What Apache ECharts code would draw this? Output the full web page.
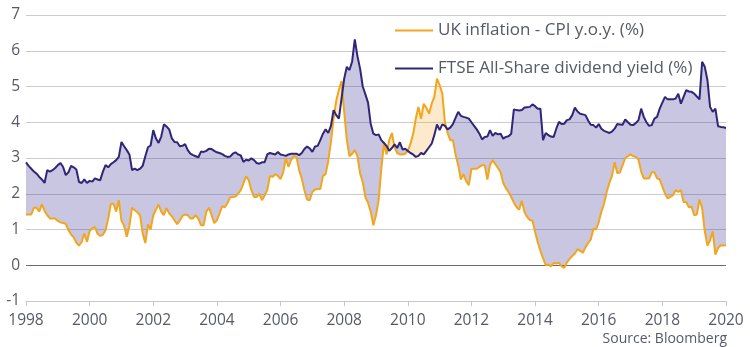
<!DOCTYPE html>
<html>
<head>
<meta charset="utf-8">
<script src="https://cdn.jsdelivr.net/npm/echarts@6/dist/echarts.min.js"></script>
<style>
html,body{margin:0;padding:0;background:#fff;}
#chart{width:750px;height:347px;}
</style>
</head>
<body>
<div id="chart"></div>
<script>
// Monthly observations, Jan 1998 .. Jan 2020
const startYear = 1998;
const endYear = 2020;
const tickYears = [1998, 2000, 2002, 2004, 2006, 2008, 2010, 2012, 2014, 2016, 2018, 2020];
const yTicks = [-1, 0, 1, 2, 3, 4, 5, 6, 7];

const dividendYield = [
  2.88,2.78,2.70,2.62,2.56,2.47,2.40,2.30,2.66,2.62,2.66,2.72, // 1998
  2.80,2.86,2.75,2.52,2.60,2.78,2.74,2.68,2.33,2.30,2.40,2.30, // 1999
  2.36,2.34,2.43,2.40,2.38,2.62,2.80,2.74,2.83,2.88,2.94,3.03, // 2000
  3.45,3.33,3.22,3.10,2.66,2.70,2.66,2.70,2.78,3.05,3.30,3.35, // 2001
  3.78,3.55,3.42,3.60,3.94,3.88,3.80,3.55,3.45,3.44,3.33,3.34, // 2002
  3.39,3.22,3.12,3.08,3.05,3.02,3.18,3.17,3.20,3.26,3.25,3.20, // 2003
  3.16,3.14,3.11,3.06,3.03,3.04,3.12,3.16,3.10,3.07,2.89,2.95, // 2004
  2.93,2.99,2.94,2.86,2.84,2.88,2.88,3.10,3.14,3.12,3.10,3.17, // 2005
  3.10,3.08,3.06,3.10,3.12,3.12,3.12,3.08,3.14,3.25,3.32,3.27, // 2006
  3.17,3.32,3.34,3.50,3.68,3.80,3.70,3.90,4.34,4.20,4.10,4.66, // 2007
  5.22,5.55,5.46,5.70,6.32,5.85,5.50,5.00,4.78,4.55,3.96,3.68, // 2008
  3.64,3.66,3.50,3.42,3.33,3.20,3.28,3.38,3.28,3.44,3.24,3.26, // 2009
  3.20,3.14,3.10,3.03,3.06,3.14,3.10,3.20,3.30,3.40,3.64,3.94, // 2010
  3.78,3.94,3.90,3.80,3.85,3.95,4.12,4.29,4.18,4.15,4.13,4.10, // 2011
  4.00,3.90,3.80,3.68,3.52,3.59,3.60,3.78,3.62,3.70,3.66,3.68, // 2012
  3.54,3.59,3.61,3.68,4.36,4.34,4.33,4.34,4.41,4.42,4.43,4.50, // 2013
  4.45,4.38,4.38,3.50,3.70,3.64,3.60,3.59,3.82,4.01,3.95,3.96, // 2014
  4.06,4.08,4.20,4.41,4.30,4.24,4.22,4.20,4.05,3.93,3.92,3.85, // 2015
  3.95,3.82,3.76,3.73,3.70,3.74,3.82,3.95,3.94,3.93,4.08,4.00, // 2016
  3.93,3.92,3.98,4.06,4.38,4.15,4.00,3.90,3.92,4.10,4.15,4.38, // 2017
  4.55,4.71,4.64,4.64,4.64,4.66,4.80,4.52,4.71,4.90,4.86,4.85, // 2018
  4.80,4.72,4.64,5.69,5.55,5.18,4.43,4.29,4.38,3.89,3.87,3.86, // 2019
  3.84                                                         // 2020
];

const cpiInflation = [
  1.42,1.42,1.42,1.61,1.61,1.50,1.71,1.52,1.40,1.31,1.31,1.31, // 1998
  1.24,1.20,1.18,1.16,0.98,0.86,0.78,0.63,0.55,0.65,0.89,0.65, // 1999
  0.96,1.03,1.07,0.88,0.82,0.85,0.98,1.30,1.72,1.72,1.50,1.82, // 2000
  1.25,1.10,0.80,1.10,1.61,1.54,1.48,1.40,0.89,0.62,1.14,1.00, // 2001
  1.40,1.55,1.70,1.50,1.40,1.60,1.45,1.37,1.26,1.15,1.25,1.38, // 2002
  1.42,1.40,1.31,1.31,1.40,1.30,1.12,1.12,1.50,1.61,1.40,1.18, // 2003
  1.26,1.45,1.65,1.62,1.74,1.90,1.91,1.92,2.00,2.10,2.29,2.49, // 2004
  2.38,2.10,1.91,1.91,2.00,1.82,1.95,2.10,2.50,2.47,2.55,2.50, // 2005
  2.41,2.60,3.00,2.75,2.95,3.05,3.03,2.66,2.43,2.10,1.84,1.82, // 2006
  2.05,2.12,2.13,2.13,2.50,2.55,2.92,3.45,4.10,4.60,4.90,5.15, // 2007
  4.30,3.50,3.05,3.12,3.22,3.05,2.57,2.33,1.90,1.75,1.50,1.12, // 2008
  1.40,1.82,2.70,3.40,3.10,3.50,3.70,3.30,3.14,3.10,3.10,3.12, // 2009
  3.20,3.40,3.67,4.10,4.43,4.10,4.52,4.40,4.24,4.52,4.71,5.22, // 2010
  5.04,4.80,4.00,3.70,3.50,3.50,3.10,2.80,2.40,2.55,2.35,2.24, // 2011
  2.70,2.70,2.70,2.75,2.80,2.80,2.40,2.80,2.94,2.83,2.72,2.60, // 2012
  2.30,2.15,2.05,1.91,1.75,1.63,1.55,1.80,1.49,1.35,1.26,1.25, // 2013
  0.93,0.65,0.40,0.20,0.00,0.02,-0.03,0.06,0.05,0.07,-0.03,-0.07, // 2014
  0.08,0.18,0.26,0.33,0.45,0.40,0.35,0.50,0.62,0.72,1.02,1.00, // 2015
  1.20,1.50,1.72,2.05,2.30,2.50,2.88,2.57,2.60,2.80,3.00,3.05, // 2016
  3.10,3.05,3.03,2.95,2.62,2.43,2.43,2.43,2.60,2.60,2.43,2.40, // 2017
  2.20,2.00,1.87,1.91,1.96,2.10,2.05,2.10,1.77,1.77,1.62,1.64, // 2018
  1.40,1.42,1.84,1.60,0.95,0.55,0.70,0.95,0.30,0.48,0.56,0.55, // 2019
  0.56                                                         // 2020
];

const seriesNames = ['UK inflation - CPI y.o.y. (%)', 'FTSE All-Share dividend yield (%)'];

// category labels (months)
const months = [];
for (let y = startYear; y <= endYear; y++) {
  for (let m = 1; m <= 12; m++) {
    if (y === endYear && m > 1) break;
    months.push(y + '-' + (m < 10 ? '0' + m : m));
  }
}

// band between the two lines
const bandBase = [], bandYield = [], bandCpi = [];
for (let i = 0; i < months.length; i++) {
  const a = dividendYield[i], b = cpiInflation[i];
  bandBase.push(Math.min(a, b));
  bandYield.push(a > b ? a - b : 0);
  bandCpi.push(b > a ? b - a : 0);
}

const FONT = '"Open Sans"';
const TXT = '#555a66';
const isTick = function (idx, val) {
  return tickYears.indexOf(+val.slice(0, 4)) >= 0 && val.slice(5) === '01';
};
const chart = echarts.init(document.getElementById('chart'), null, {renderer: 'canvas'});
chart.setOption({
  animation: false,
  backgroundColor: '#ffffff',
  textStyle: {fontFamily: FONT},
  grid: {left: 26, right: 24, top: 15, bottom: 46, containLabel: false},
  legend: {
    data: seriesNames,
    orient: 'vertical',
    left: 395,
    top: 22,
    icon: 'rect',
    itemWidth: 38,
    itemHeight: 2,
    itemGap: 21,
    padding: 0,
    textStyle: {fontFamily: FONT, fontSize: 17, color: TXT, padding: [0, 0, 0, 0]},
    selectedMode: false
  },
  xAxis: {
    type: 'category',
    data: months,
    boundaryGap: false,
    axisLine: {onZero: false, lineStyle: {color: '#c8c8c8', width: 1}},
    axisTick: {show: true, length: 5, lineStyle: {color: '#c8c8c8'}, interval: isTick},
    axisLabel: {
      interval: isTick,
      formatter: function (val) { return val.slice(0, 4); },
      fontFamily: FONT,
      fontSize: 15.5,
      color: TXT,
      margin: 12,
      showMaxLabel: true
    },
    splitLine: {show: false}
  },
  yAxis: {
    type: 'value',
    min: yTicks[0],
    max: yTicks[yTicks.length - 1],
    interval: 1,
    axisLine: {show: false},
    axisTick: {show: false},
    axisLabel: {fontFamily: FONT, fontSize: 15.5, color: TXT, margin: 6},
    splitLine: {show: true, lineStyle: {color: '#cccccc', width: 1}}
  },
  series: [
    {
      name: 'base', type: 'line', data: bandBase, stack: 'band', stackStrategy: 'all',
      symbol: 'none', lineStyle: {width: 0, opacity: 0}, silent: true, z: 1
    },
    {
      name: 'bandYield', type: 'line', data: bandYield, stack: 'band', stackStrategy: 'all',
      symbol: 'none', lineStyle: {width: 0, opacity: 0}, silent: true, z: 1,
      areaStyle: {color: 'rgba(48,36,140,0.26)', opacity: 1}
    },
    {
      name: 'bandCpi', type: 'line', data: bandCpi, stack: 'band', stackStrategy: 'all',
      symbol: 'none', lineStyle: {width: 0, opacity: 0}, silent: true, z: 1,
      areaStyle: {color: 'rgba(248,165,40,0.24)', opacity: 1}
    },
    {
      name: seriesNames[0], type: 'line', data: cpiInflation, symbol: 'none',
      color: '#f2a61c', lineStyle: {color: '#f2a61c', width: 2}, z: 4,
      markLine: {
        silent: true, symbol: 'none', label: {show: false},
        lineStyle: {color: '#6b6b6b', width: 1, type: 'solid'},
        data: [{yAxis: 0}], z: 2
      }
    },
    {
      name: seriesNames[1], type: 'line', data: dividendYield, symbol: 'none',
      color: '#2e2676', lineStyle: {color: '#2e2676', width: 2}, z: 5
    }
  ],
  graphic: [{
    type: 'text', right: 23, bottom: 1,
    style: {text: 'Source: Bloomberg', font: '14px ' + FONT, fill: TXT}
  }]
});
</script>
</body>
</html>
